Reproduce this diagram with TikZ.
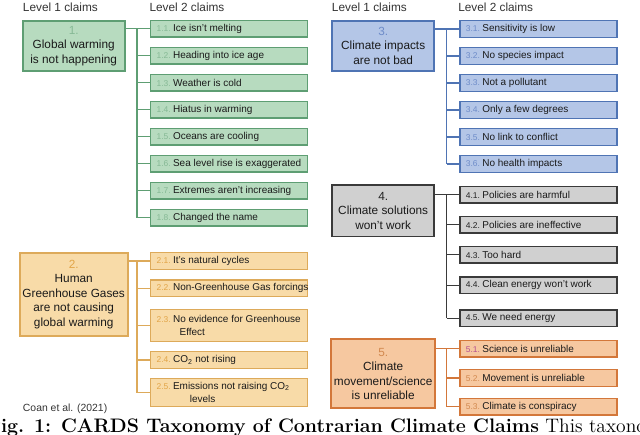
\documentclass[tikz,border=0pt]{standalone}
\usepackage{fontspec}
\setsansfont{Liberation Sans}
\usepackage{xcolor}
\definecolor{ink}{HTML}{1A1A1A}
\definecolor{headgray}{HTML}{333333}
\definecolor{greenfill}{HTML}{B7DBBF}
\definecolor{greenline}{HTML}{5E9E73}
\definecolor{greennum}{HTML}{86B995}
\definecolor{amberfill}{HTML}{F8DBA8}
\definecolor{amberline}{HTML}{DDAA5A}
\definecolor{ambernum}{HTML}{E2A548}
\definecolor{bluefill}{HTML}{B4C6E7}
\definecolor{blueline}{HTML}{4F74B4}
\definecolor{bluenum}{HTML}{6E8CC9}
\definecolor{greyfill}{HTML}{D0D0D0}
\definecolor{greyline}{HTML}{3A3A3A}
\definecolor{greynum}{HTML}{222222}
\definecolor{peachfill}{HTML}{F6C8A0}
\definecolor{peachline}{HTML}{D3773A}
\definecolor{peachnum}{HTML}{D2894F}
\definecolor{pinknum}{HTML}{B5508F}
\newcommand{\cnum}[2]{{\color{#1}\fontsize{6}{7}\selectfont #2\ }}
\newcommand{\claimline}[1]{\makebox[3.625cm][l]{#1}}
\newcommand{\claim}[3]{\claimline{\cnum{#1}{#2}#3}}
\tikzset{
  topcard/.style={line width=1.2pt,minimum width=2.55cm,align=center,
                  inner sep=2pt,text=ink,
                  font=\sffamily\fontsize{8.4}{10.3}\selectfont},
  subcard/.style={line width=0.9pt,anchor=west,align=left,
                  inner xsep=0.15cm,inner ysep=1pt,
                  minimum height=0.41cm,text=ink,
                  font=\sffamily\fontsize{7.1}{9.7}\selectfont},
  greentop/.style={topcard,draw=greenline,fill=greenfill},
  greensub/.style={subcard,draw=greenline,fill=greenfill},
  ambertop/.style={topcard,draw=amberline,fill=amberfill},
  ambersub/.style={subcard,draw=amberline,fill=amberfill},
  bluetop/.style={topcard,draw=blueline,fill=bluefill},
  bluesub/.style={subcard,draw=blueline,fill=bluefill},
  greytop/.style={topcard,draw=greyline,fill=greyfill},
  greysub/.style={subcard,draw=greyline,fill=greyfill},
  peachtop/.style={topcard,draw=peachline,fill=peachfill},
  peachsub/.style={subcard,draw=peachline,fill=peachfill},
  link/.style={line width=0.8pt},
  header/.style={anchor=base west,inner sep=0pt,text=headgray,
                 font=\sffamily\fontsize{8.4}{10}\selectfont}
}
\begin{document}
\begin{tikzpicture}[x=0.025cm,y=-0.025cm]
    \path[use as bounding box] (0,0) rectangle (640,435);

    % column headers
    \node[header] (hl1) at (22.7,11.7) {Level 1 claims};
    \node[header] (hl2) at (149.3,11.7) {Level 2 claims};
    \node[header] (hr1) at (331.7,11.7) {Level 1 claims};
    \node[header] (hr2) at (458,11.7) {Level 2 claims};

    % 1. global warming
    \node[greentop,minimum height=1.26cm] (c1) at (73.7,45.9)
      {{\color{greennum}1.}\\Global warming\\is not happening};
    \node[greensub] (c11) at (150,28.7) {\claim{greennum}{1.1.}{Ice isn't melting}};
    \node[greensub] (c12) at (150,55.7) {\claim{greennum}{1.2.}{Heading into ice age}};
    \node[greensub] (c13) at (150,82.7) {\claim{greennum}{1.3.}{Weather is cold}};
    \node[greensub] (c14) at (150,109.7) {\claim{greennum}{1.4.}{Hiatus in warming}};
    \node[greensub] (c15) at (150,136.7) {\claim{greennum}{1.5.}{Oceans are cooling}};
    \node[greensub] (c16) at (150,163.7) {\claim{greennum}{1.6.}{Sea level rise is exaggerated}};
    \node[greensub] (c17) at (150,190.7) {\claim{greennum}{1.7.}{Extremes aren't increasing}};
    \node[greensub] (c18) at (150,217.7) {\claim{greennum}{1.8.}{Changed the name}};

    % 2. human greenhouse gases
    \node[ambertop,minimum height=2.075cm] (c2) at (73.7,294.2)
      {{\color{ambernum}2.}\\Human\\Greenhouse Gases\\are not causing\\global warming};
    \node[ambersub] (c21) at (150,261) {\claim{ambernum}{2.1.}{It's natural cycles}};
    \node[ambersub] (c22) at (150,288.3) {\claim{ambernum}{2.2.}{Non-Greenhouse Gas forcings}};
    \node[ambersub,minimum height=0.81cm] (c23) at (150,325.5)
      {\claim{ambernum}{2.3.}{No evidence for Greenhouse}\\
       \claimline{\hspace*{0.575cm}Effect}};
    \node[ambersub] (c24) at (150,360) {\claim{ambernum}{2.4.}{CO\textsubscript{2} not rising}};
    \node[ambersub,minimum height=0.71cm] (c25) at (150,392.5)
      {\claim{ambernum}{2.5.}{Emissions not raising CO\textsubscript{2}}\\
       \claimline{\hspace*{0.83cm}levels}};

    \node[anchor=base west,inner sep=0pt,text=headgray,
          font=\sffamily\fontsize{7.4}{9}\selectfont] (src) at (22.7,411)
      {Coan et al. (2021)};

    % 3. climate impacts
    \node[bluetop,minimum height=1.26cm] (c3) at (383.2,45.9)
      {{\color{bluenum}3.}\\Climate impacts\\are not bad};
    \node[bluesub] (c31) at (459.3,29) {\claim{bluenum}{3.1.}{Sensitivity is low}};
    \node[bluesub] (c32) at (459.3,56) {\claim{bluenum}{3.2.}{No species impact}};
    \node[bluesub] (c33) at (459.3,83) {\claim{bluenum}{3.3.}{Not a pollutant}};
    \node[bluesub] (c34) at (459.3,110) {\claim{bluenum}{3.4.}{Only a few degrees}};
    \node[bluesub] (c35) at (459.3,137) {\claim{bluenum}{3.5.}{No link to conflict}};
    \node[bluesub] (c36) at (459.3,164) {\claim{bluenum}{3.6.}{No health impacts}};

    % 4. climate solutions
    \node[greytop,minimum height=1.29cm] (c4) at (383.2,210.8)
      {{\color{greynum}4.}\\Climate solutions\\won't work};
    \node[greysub] (c41) at (459.3,194.7) {\claim{greynum}{4.1.}{Policies are harmful}};
    \node[greysub] (c42) at (459.3,224.7) {\claim{greynum}{4.2.}{Policies are ineffective}};
    \node[greysub] (c43) at (459.3,254.7) {\claim{greynum}{4.3.}{Too hard}};
    \node[greysub] (c44) at (459.3,285.3) {\claim{greynum}{4.4.}{Clean energy won't work}};
    \node[greysub] (c45) at (459.3,318.3) {\claim{greynum}{4.5.}{We need energy}};

    % 5. movement / science
    \node[peachtop,minimum height=1.725cm] (c5) at (383.2,373.8)
      {{\color{peachnum}5.}\\Climate\\movement/science\\is unreliable};
    \node[peachsub] (c51) at (459.3,348.7) {\claim{pinknum}{5.1.}{Science is unreliable}};
    \node[peachsub] (c52) at (459.3,378) {\claim{peachnum}{5.2.}{Movement is unreliable}};
    \node[peachsub] (c53) at (459.3,406.7) {\claim{peachnum}{5.3.}{Climate is conspiracy}};

    % trunks and branches
    \coordinate (lt) at (137,0);
    \coordinate (rt) at (446.7,0);
    \draw[link,greenline] (c1.east |- c11.west) -- (c11.west);
    \draw[link,greenline] (lt |- c11.west) -- (lt |- c18.west);
    \foreach \k in {2,...,8}
      \draw[link,greenline] (lt |- c1\k.west) -- (c1\k.west);
    \draw[link,amberline] (c2.east |- c21.west) -- (c21.west);
    \draw[link,amberline] (lt |- c21.west) -- (lt |- c25.west);
    \foreach \k in {2,...,5}
      \draw[link,amberline] (lt |- c2\k.west) -- (c2\k.west);
    \draw[link,blueline] (c3.east |- c31.west) -- (c31.west);
    \draw[link,blueline] (rt |- c31.west) -- (rt |- c36.west);
    \foreach \k in {2,...,6}
      \draw[link,blueline] (rt |- c3\k.west) -- (c3\k.west);
    \draw[link,greyline] (c4.east |- c41.west) -- (c41.west);
    \draw[link,greyline] (rt |- c41.west) -- (rt |- c45.west);
    \foreach \k in {2,...,5}
      \draw[link,greyline] (rt |- c4\k.west) -- (c4\k.west);
    \draw[link,peachline] (c5.east |- c51.west) -- (c51.west);
    \draw[link,peachline] (rt |- c51.west) -- (rt |- c53.west);
    \foreach \k in {2,3}
      \draw[link,peachline] (rt |- c5\k.west) -- (c5\k.west);

    % caption, cut off by the page
    \node[anchor=base west,inner sep=0pt,font=\fontsize{13.9}{16}\selectfont]
      (cap) at (-13,432.5)
      {\textbf{Fig. 1: CARDS Taxonomy of Contrarian Climate Claims} This taxonomy};
  \end{tikzpicture}
\end{document}
